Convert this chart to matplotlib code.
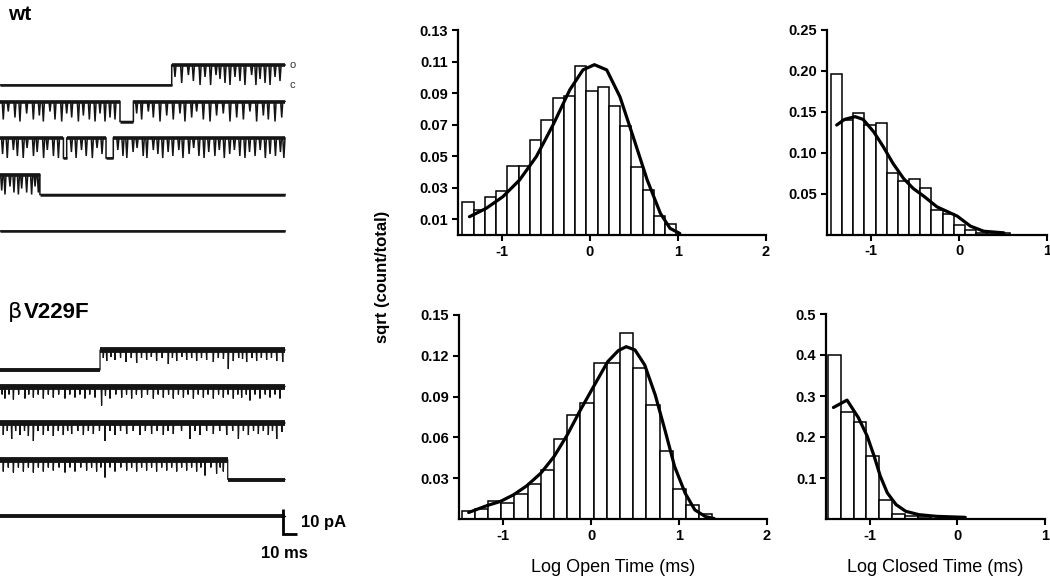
import numpy as np
import matplotlib.pyplot as plt

plt.rcParams['font.family'] = ['Liberation Sans', 'DejaVu Sans']
plt.rcParams['axes.unicode_minus'] = False

# ---------------- dwell time histograms (log10 ms, sqrt(count/total)) -------------
# wt open
wt_open_left = -1.45
wt_open_width = 0.128
wt_open_h = [0.021, 0.016, 0.024, 0.028, 0.044, 0.044, 0.060, 0.073, 0.087, 0.088,
             0.107, 0.0915, 0.094, 0.082, 0.069, 0.043, 0.0285, 0.012, 0.007]
wt_open_fit_x = [-1.37, -1.18, -0.99, -0.80, -0.61, -0.42, -0.23, -0.08, 0.05, 0.19,
                 0.34, 0.49, 0.65, 0.80, 0.91, 1.02]
wt_open_fit_y = [0.0116, 0.0169, 0.0243, 0.0349, 0.0497, 0.0698, 0.092, 0.1047, 0.108,
                 0.1047, 0.0877, 0.0624, 0.0349, 0.0137, 0.0042, 0.001]

# wt closed
wt_closed_left = -1.456
wt_closed_width = 0.127
wt_closed_h = [0.196, 0.140, 0.1487, 0.1335, 0.1355, 0.0753, 0.0655, 0.068, 0.0565,
               0.030, 0.025, 0.012, 0.005, 0.002, 0.002, 0.002]
wt_closed_fit_x = [-1.39, -1.30, -1.18, -1.09, -0.97, -0.86, -0.75, -0.63, -0.52,
                   -0.40, -0.25, -0.02, 0.13, 0.28, 0.51]
wt_closed_fit_y = [0.1335, 0.1404, 0.1437, 0.1404, 0.1253, 0.107, 0.0867, 0.0683,
                   0.0561, 0.0467, 0.0337, 0.0224, 0.0102, 0.004, 0.002]

# bV229F open
mu_open_left = -1.47
mu_open_width = 0.15
mu_open_h = [0.006, 0.007, 0.013, 0.012, 0.0185, 0.0255, 0.036, 0.059, 0.0765, 0.085,
             0.115, 0.115, 0.1365, 0.111, 0.084, 0.050, 0.022, 0.0105, 0.004]
mu_open_fit_x = [-1.39, -1.18, -1.03, -0.88, -0.73, -0.57, -0.42, -0.27, -0.12, 0.04,
                 0.19, 0.31, 0.40, 0.50, 0.61, 0.73, 0.84, 0.95, 1.07, 1.18, 1.30, 1.40]
mu_open_fit_y = [0.0048, 0.0099, 0.0129, 0.0178, 0.0244, 0.0337, 0.0459, 0.0618, 0.0802,
                 0.0986, 0.1157, 0.1238, 0.1267, 0.1243, 0.1133, 0.0912, 0.0655, 0.0386,
                 0.019, 0.0067, 0.0018, 0.0003]

# bV229F closed
mu_closed_left = -1.48
mu_closed_width = 0.147
mu_closed_h = [0.40, 0.261, 0.2376, 0.153, 0.0457, 0.013, 0.008, 0.004]
mu_closed_fit_x = [-1.415, -1.26, -1.13, -1.03, -0.95, -0.88, -0.80, -0.70, -0.59,
                   -0.44, -0.24, 0.09]
mu_closed_fit_y = [0.272, 0.290, 0.247, 0.2024, 0.153, 0.1045, 0.0637, 0.0351, 0.0188,
                   0.0106, 0.0065, 0.004]

# ---------------- single channel traces (ms, open/closed) ---------------------------
trace_len = 200.0
amp = 8.0  # pA

wt_segments = [
    [(0, 120.5, 'c'), (120.5, 200, 'o')],
    [(0, 84.2, 'o'), (84.2, 93.6, 'c'), (93.6, 200, 'o')],
    [(0, 44.5, 'o'), (44.5, 46.8, 'c'), (46.8, 74.4, 'o'), (74.4, 79.5, 'c'), (79.5, 200, 'o')],
    [(0, 28.0, 'o'), (28.0, 200, 'c')],
    [(0, 200, 'c')],
]
wt_flicks = [
    [(122.8, 0.6), (127.5, 0.9), (132.2, 0.5), (135.7, 0.8), (140.4, 1.0), (143.9, 0.6),
     (147.8, 1.0), (151.6, 0.5), (154.4, 0.7), (157.9, 0.9), (161.4, 1.0), (164.9, 0.6),
     (168.4, 0.8), (171.9, 1.0), (176.6, 0.5), (179.6, 1.0), (182.5, 0.7), (186.0, 0.9),
     (189.5, 1.0), (193.0, 0.6), (196.5, 0.8)],
    [(2.3, 0.9), (5.8, 0.5), (10.5, 0.8), (14.0, 1.0), (18.7, 0.6), (23.4, 0.9), (27.6, 0.7),
     (30.4, 1.0), (35.1, 0.5), (38.6, 0.9), (43.3, 1.0), (46.8, 0.6), (50.3, 0.8), (55.0, 1.0),
     (58.5, 0.7), (62.7, 0.9), (66.7, 1.0), (70.2, 0.6), (73.7, 1.0), (77.2, 0.8), (80.7, 0.9),
     (95.9, 0.6), (99.4, 0.9), (104.1, 0.5), (107.6, 0.8), (112.3, 1.0), (117.0, 0.7),
     (121.6, 0.9), (126.3, 0.6), (129.8, 1.0), (134.5, 0.8), (138.0, 0.5), (142.7, 0.9),
     (147.4, 1.0), (152.0, 0.7), (156.7, 0.6), (161.4, 1.0), (166.1, 0.8), (170.8, 0.9),
     (175.4, 0.5), (180.1, 1.0), (184.8, 0.7), (188.3, 0.9), (193.0, 1.0), (197.7, 0.8)],
    [(1.8, 0.8), (5.1, 1.0), (9.4, 0.6), (12.2, 0.9), (16.3, 1.0), (19.0, 0.5), (23.5, 0.9),
     (26.1, 0.7), (30.6, 1.0), (33.2, 0.6), (37.5, 0.9), (41.0, 1.0), (50.1, 0.7), (53.4, 1.0),
     (57.2, 0.6), (60.5, 0.9), (64.8, 1.0), (68.1, 0.5), (71.6, 0.8), (82.7, 0.6), (86.3, 0.9),
     (89.0, 1.0), (93.4, 0.7), (96.2, 0.5), (100.5, 0.9), (103.1, 1.0), (107.6, 0.6),
     (110.8, 0.8), (114.2, 1.0), (118.0, 0.7), (121.3, 0.9), (125.5, 0.6), (128.4, 1.0),
     (132.7, 0.8), (135.9, 0.5), (139.6, 0.9), (143.2, 1.0), (146.5, 0.7), (150.8, 0.9),
     (153.9, 0.6), (157.4, 1.0), (161.2, 0.8), (164.5, 0.6), (168.3, 0.9), (171.9, 1.0),
     (175.1, 0.7), (179.0, 0.9), (182.6, 0.6), (186.2, 1.0), (189.5, 0.8), (193.3, 0.9),
     (196.8, 0.7), (199.2, 1.0)],
    [(1.2, 0.8), (3.5, 1.0), (7.0, 0.6), (9.8, 0.9), (12.9, 1.0), (15.2, 0.7), (18.7, 0.9),
     (22.2, 1.0), (24.6, 0.6), (26.9, 0.9)],
    [],
]

mu_segments = [
    [(0, 70.2, 'c'), (70.2, 200, 'o')],
    [(0, 200, 'o')],
    [(0, 200, 'o')],
    [(0, 159.8, 'o'), (159.8, 200, 'c')],
    [(0, 200, 'c')],
]
mu_flicks = [
    [(72.5, 0.4), (74.9, 0.55), (77.8, 0.35), (80.7, 0.5), (84.6, 0.4), (88.4, 0.6),
     (92.1, 0.4), (95.9, 0.65), (99.3, 0.4), (102.9, 0.5), (106.2, 0.35), (109.9, 0.55),
     (113.8, 0.4), (118.1, 0.7), (121.0, 0.4), (124.0, 0.55), (127.6, 0.35), (131.0, 0.5),
     (134.5, 0.4), (138.0, 0.55), (141.4, 0.4), (145.0, 0.5), (149.7, 0.6), (153.2, 0.4),
     (156.8, 0.45), (160.2, 0.95), (163.7, 0.55), (167.5, 0.4), (170.2, 0.45), (173.1, 0.6),
     (176.9, 0.4), (180.1, 0.55), (183.4, 0.4), (187.1, 0.5), (190.5, 0.4), (194.2, 0.55),
     (198.4, 0.6)],
    [(1.5, 0.4), (3.5, 0.6), (6.3, 0.4), (9.4, 0.65), (13.1, 0.4), (17.5, 0.6), (20.2, 0.4),
     (23.4, 0.55), (26.8, 0.4), (30.4, 0.6), (33.9, 0.4), (37.4, 0.55), (41.2, 0.4),
     (45.6, 0.6), (49.0, 0.4), (52.6, 0.55), (56.1, 0.4), (59.6, 0.6), (63.0, 0.4),
     (66.7, 0.55), (71.3, 0.95), (74.0, 0.45), (77.2, 0.6), (81.3, 0.4), (85.4, 0.55),
     (88.8, 0.4), (92.4, 0.6), (95.7, 0.4), (99.4, 0.55), (103.5, 0.4), (107.6, 0.6),
     (111.0, 0.4), (114.6, 0.55), (118.3, 0.4), (121.6, 0.6), (125.2, 0.4), (128.7, 0.55),
     (132.0, 0.4), (135.7, 0.6), (139.1, 0.4), (142.7, 0.55), (146.0, 0.4), (149.7, 0.6),
     (153.4, 0.4), (156.7, 0.55), (160.1, 0.4), (163.7, 0.6), (166.9, 0.4), (169.6, 0.55),
     (172.8, 0.4), (175.4, 0.7), (179.0, 0.4), (182.5, 0.6), (186.1, 0.4), (189.5, 0.55),
     (193.0, 0.4), (196.5, 0.6)],
    [(2.3, 0.6), (5.1, 0.4), (8.2, 0.8), (11.0, 0.4), (14.0, 0.6), (17.2, 0.4), (19.9, 0.65),
     (23.4, 0.9), (26.7, 0.4), (30.4, 0.6), (33.8, 0.4), (37.4, 0.65), (40.9, 0.4),
     (44.4, 0.6), (47.5, 0.4), (50.3, 0.55), (54.6, 0.4), (58.5, 0.6), (62.0, 0.4),
     (65.5, 0.55), (69.8, 0.4), (73.7, 0.9), (77.1, 0.4), (80.7, 0.6), (84.6, 0.4),
     (88.9, 0.55), (93.5, 0.4), (98.2, 0.6), (102.0, 0.4), (106.4, 0.55), (110.3, 0.4),
     (114.6, 0.6), (118.0, 0.4), (121.6, 0.55), (127.4, 0.4), (133.3, 0.8), (136.9, 0.4),
     (140.4, 0.6), (145.0, 0.4), (149.7, 0.55), (154.2, 0.4), (159.1, 0.6), (163.3, 0.4),
     (167.3, 0.8), (170.8, 0.4), (174.3, 0.6), (177.9, 0.4), (181.3, 0.55), (184.8, 0.4),
     (188.3, 0.6), (191.2, 0.4), (194.2, 0.8), (197.8, 0.45)],
    [(2.3, 0.6), (5.8, 0.4), (9.4, 0.65), (12.9, 0.4), (16.4, 0.6), (19.9, 0.4), (23.4, 0.65),
     (26.9, 0.4), (30.4, 0.6), (33.9, 0.4), (37.4, 0.55), (41.5, 0.4), (45.6, 0.65),
     (49.1, 0.4), (52.6, 0.6), (56.7, 0.4), (60.8, 0.55), (64.3, 0.4), (67.8, 0.6),
     (70.8, 0.4), (73.7, 0.9), (77.2, 0.4), (80.7, 0.6), (84.8, 0.4), (88.9, 0.55),
     (92.4, 0.4), (95.9, 0.6), (99.4, 0.4), (102.9, 0.55), (106.4, 0.4), (109.9, 0.6),
     (113.5, 0.4), (117.0, 0.55), (120.5, 0.4), (124.0, 0.6), (127.5, 0.4), (131.0, 0.55),
     (134.5, 0.4), (138.0, 0.6), (141.0, 0.4), (143.9, 0.8), (148.0, 0.4), (152.0, 0.7),
     (154.5, 0.4), (156.7, 0.6)],
    [],
]

scale_ms = 10
scale_pa = 10

# ---------------- figure -----------------------------------------------------------
W, H = 1050, 580
fig = plt.figure(figsize=(W / 100, H / 100), dpi=100)


def px_axes(x0, y0, x1, y1):
    return fig.add_axes([x0 / W, 1 - y1 / H, (x1 - x0) / W, (y1 - y0) / H])


def build_trace(segs, flicks, half):
    t, y = [], []
    for t0, t1, st in segs:
        lvl = amp if st == 'o' else 0.0
        t.append(t0)
        y.append(lvl)
        if st == 'o':
            for f, d in flicks:
                if t0 + half < f < t1 - half:
                    t += [f - half, f, f + half]
                    y += [lvl, lvl - d * amp, lvl]
        t.append(t1)
        y.append(lvl)
    return np.array(t), np.array(y)


row_gap = 14.6
px_per_ms = 1.425
trace_color = '#151515'

ax_wt = px_axes(0, 40, 350, 250)
ax_wt.set_xlim(0, 350 / px_per_ms)
ax_wt.set_ylim(-66, 18)
ax_mu = px_axes(0, 330, 350, 560)
ax_mu.set_xlim(0, 350 / px_per_ms)
ax_mu.set_ylim(-76, 16)

for ax, segs_all, flk_all, half, lw_open, lw_closed, lw_line in [
        (ax_wt, wt_segments, wt_flicks, 0.75, 2.6, 1.8, 1.1),
        (ax_mu, mu_segments, mu_flicks, 0.35, 4.2, 2.8, 0.9)]:
    for k, (segs, flk) in enumerate(zip(segs_all, flk_all)):
        off = -k * row_gap
        t, y = build_trace(segs, flk, half)
        ax.plot(t, y + off, color=trace_color, lw=lw_line, solid_joinstyle='miter')
        for t0, t1, st in segs:
            lvl = amp if st == 'o' else 0.0
            ax.plot([t0, t1], [lvl + off, lvl + off], color=trace_color,
                    lw=lw_open if st == 'o' else lw_closed, solid_capstyle='butt')
    ax.axis('off')

ax_wt.text(trace_len + 3, amp, 'o', fontsize=8, va='center', ha='left', color='#333333')
ax_wt.text(trace_len + 3, 0, 'c', fontsize=8, va='center', ha='left', color='#333333')

# scale bar
sb_x = trace_len - 1.5
sb_y = -4 * row_gap - 7.0
ax_mu.plot([sb_x, sb_x, sb_x + scale_ms], [sb_y + scale_pa, sb_y, sb_y],
           color='black', lw=2.0, solid_capstyle='butt', solid_joinstyle='miter')
ax_mu.text(sb_x + scale_ms + 2.5, sb_y + scale_pa / 2 - 0.5, '%d pA' % scale_pa,
           fontsize=12, fontweight='bold', va='center', ha='left')
ax_mu.text(sb_x + scale_ms / 2 - 4, sb_y - 8.0, '%d ms' % scale_ms,
           fontsize=12, fontweight='bold', va='center', ha='center')

fig.text(8 / W, 1 - 20 / H, 'wt', fontsize=15, fontweight='bold', va='baseline')
fig.text(8 / W, 1 - 318 / H, '\u03b2', fontsize=16, family='DejaVu Sans', va='baseline')
fig.text(24 / W, 1 - 318 / H, 'V229F', fontsize=16, fontweight='bold', va='baseline')

# histograms
ax_to = px_axes(458, 30, 766, 235)
ax_tc = px_axes(827, 29.5, 1047, 234.5)
ax_bo = px_axes(459, 315, 767, 519)
ax_bc = px_axes(826, 314, 1045, 519)

hists = [
    (ax_to, wt_open_left, wt_open_width, wt_open_h, wt_open_fit_x, wt_open_fit_y,
     (-1.5, 2), [-1, 0, 1, 2], 0.13, [0.01, 0.03, 0.05, 0.07, 0.09, 0.11, 0.13], '%.2f'),
    (ax_tc, wt_closed_left, wt_closed_width, wt_closed_h, wt_closed_fit_x, wt_closed_fit_y,
     (-1.5, 1), [-1, 0, 1], 0.25, [0.05, 0.10, 0.15, 0.20, 0.25], '%.2f'),
    (ax_bo, mu_open_left, mu_open_width, mu_open_h, mu_open_fit_x, mu_open_fit_y,
     (-1.5, 2), [-1, 0, 1, 2], 0.15, [0.03, 0.06, 0.09, 0.12, 0.15], '%.2f'),
    (ax_bc, mu_closed_left, mu_closed_width, mu_closed_h, mu_closed_fit_x, mu_closed_fit_y,
     (-1.5, 1), [-1, 0, 1], 0.5, [0.1, 0.2, 0.3, 0.4, 0.5], '%.1f'),
]

for ax, left, width, h, fx, fy, xl, xt, ytop, yt, fmt in hists:
    lefts = left + width * np.arange(len(h))
    ax.bar(lefts, h, width=width, align='edge', color='white', edgecolor='black',
           linewidth=1.1, zorder=2)
    ax.plot(fx, fy, color='black', lw=2.3, zorder=3, solid_capstyle='round')
    ax.set_xlim(*xl)
    ax.set_ylim(0, ytop)
    ax.set_xticks(xt)
    ax.set_xticklabels(['%d' % v for v in xt])
    ax.set_yticks(yt)
    ax.set_yticklabels([fmt % v for v in yt])
    for s in ['top', 'right']:
        ax.spines[s].set_visible(False)
    for s in ['left', 'bottom']:
        ax.spines[s].set_linewidth(1.6)
    ax.tick_params(direction='out', length=4, width=1.5, labelsize=10.5, pad=3)
    for lab in ax.get_xticklabels() + ax.get_yticklabels():
        lab.set_fontweight('bold')

ax_bo.set_xlabel('Log Open Time (ms)', fontsize=13, labelpad=12)
ax_bc.set_xlabel('Log Closed Time (ms)', fontsize=13, labelpad=12)
fig.text(383 / W, 1 - 277 / H, 'sqrt (count/total)', rotation=90, fontsize=12,
         fontweight='bold', ha='center', va='center')

fig.savefig('out.png', dpi=100)
